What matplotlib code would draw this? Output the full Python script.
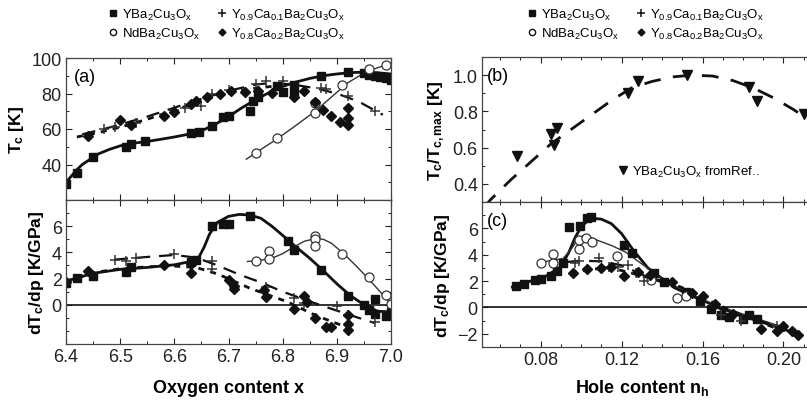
import matplotlib
matplotlib.use("Agg")
import matplotlib.pyplot as plt
from matplotlib.lines import Line2D
from matplotlib.ticker import MultipleLocator, FixedLocator

plt.rcParams['font.family'] = ['Liberation Sans', 'DejaVu Sans']
plt.rcParams['mathtext.fontset'] = 'custom'
plt.rcParams['mathtext.rm'] = 'Liberation Sans'
plt.rcParams['mathtext.it'] = 'Liberation Sans:italic'
plt.rcParams['mathtext.bf'] = 'Liberation Sans:bold'
plt.rcParams['mathtext.default'] = 'regular'

# ---------------- Panel (a): Tc vs oxygen content ----------------
a_sq_x = [6.40, 6.42, 6.45, 6.51, 6.52, 6.545, 6.63, 6.645, 6.67, 6.69, 6.70, 6.74, 6.745, 6.755,
          6.79, 6.80, 6.82, 6.82, 6.87, 6.92, 6.95, 6.96, 6.97, 6.98, 6.99, 7.00]
a_sq_y = [29, 35, 44.5, 50, 51.5, 53, 58, 58.5, 61.5, 66.5, 67.5, 70, 76, 78,
          84, 81, 85, 80.5, 90, 92, 91.5, 90.5, 90, 89.5, 88.5, 87.5]
a_ci_x = [6.75, 6.79, 6.86, 6.86, 6.91, 6.96, 6.99]
a_ci_y = [46.5, 55, 69, 74.5, 85, 94, 96]
a_cr_x = [6.47, 6.49, 6.53, 6.60, 6.62, 6.65, 6.67, 6.70, 6.75, 6.77, 6.80, 6.87, 6.88, 6.92, 6.97]
a_cr_y = [60, 61, 63.5, 70.5, 72, 73, 80, 82, 85.5, 87, 87, 83, 82.5, 78.5, 70]
a_di_x = [6.44, 6.50, 6.52, 6.58, 6.60, 6.63, 6.64, 6.66, 6.685, 6.705, 6.73, 6.755, 6.78,
          6.82, 6.84, 6.86, 6.875, 6.89, 6.905, 6.92, 6.92, 6.92]
a_di_y = [56, 65, 62, 67.5, 69.5, 74, 76, 78, 80, 81.5, 81, 81.5, 80.5,
          78, 81.5, 75, 70.5, 67.5, 64, 62.5, 66, 72]

a_sq_fit_x = [6.40, 6.41, 6.42, 6.43, 6.45, 6.46, 6.48, 6.50, 6.52, 6.55, 6.575, 6.60, 6.625, 6.65,
              6.675, 6.70, 6.725, 6.75, 6.775, 6.80, 6.825, 6.85, 6.875, 6.90, 6.925, 6.95, 6.975, 7.00]
a_sq_fit_y = [30, 33.5, 37, 40, 44, 46, 48.5, 50.5, 51.8, 53, 54.2, 55.5, 57, 59,
              62.5, 67, 72, 76.5, 80.5, 84, 86.5, 88.5, 90, 91, 91.8, 92, 91.7, 91]
a_ci_fit_x = [6.733, 6.76, 6.79, 6.82, 6.86, 6.89, 6.92, 6.95, 6.975, 7.00]
a_ci_fit_y = [43, 48.5, 54.5, 61, 70, 78, 86, 91.5, 94.5, 97]
a_cr_fit_x = [6.43, 6.47, 6.50, 6.55, 6.60, 6.65, 6.70, 6.75, 6.78, 6.82, 6.86, 6.90, 6.94, 6.985]
a_cr_fit_y = [57, 60, 62.5, 67, 72, 77, 81.5, 85, 86, 85, 83, 80, 75.5, 68]
a_di_fit_x = [6.42, 6.46, 6.50, 6.55, 6.60, 6.65, 6.70, 6.75, 6.78]
a_di_fit_y = [55.5, 58, 61, 65.5, 70.5, 76, 80.5, 83, 84]

# ---------------- Lower left: dTc/dp vs oxygen content ----------------
d_sq_x = [6.40, 6.42, 6.45, 6.51, 6.52, 6.63, 6.64, 6.67, 6.69, 6.70, 6.74, 6.81, 6.82, 6.87,
          6.92, 6.95, 6.96, 6.97, 6.97, 6.99, 7.00]
d_sq_y = [1.65, 2.05, 2.2, 2.5, 2.85, 3.3, 3.45, 6.05, 6.2, 6.2, 6.8, 4.9, 4.15, 2.65,
          0.65, 0.0, -0.4, 0.45, -0.7, -0.85, -0.55]
d_ci_x = [6.75, 6.775, 6.775, 6.86, 6.86, 6.86, 6.91, 6.96, 6.99, 7.00]
d_ci_y = [3.35, 4.1, 3.5, 5.25, 5.05, 4.45, 3.85, 2.1, 0.75, 0.05]
d_cr_x = [6.49, 6.51, 6.53, 6.60, 6.67, 6.67, 6.77, 6.82, 6.84, 6.90, 6.92, 6.97]
d_cr_y = [3.45, 3.35, 3.6, 3.85, 3.35, 2.7, 1.35, 0.5, 0.1, -0.1, -0.8, -1.3]
d_di_x = [6.40, 6.44, 6.58, 6.63, 6.63, 6.70, 6.71, 6.71, 6.765, 6.77, 6.82, 6.84, 6.845,
          6.86, 6.88, 6.89, 6.92, 6.92, 6.92]
d_di_y = [1.7, 2.6, 3.0, 3.1, 2.45, 1.9, 1.45, 1.2, 1.1, 0.6, -0.3, 0.7, 0.2,
          -1.05, -1.7, -1.7, -1.45, -1.9, -0.8]

d_sq_fit_x = [6.40, 6.45, 6.50, 6.55, 6.60, 6.63, 6.645, 6.655, 6.665, 6.68, 6.70, 6.72, 6.74,
              6.76, 6.78, 6.80, 6.825, 6.85, 6.875, 6.90, 6.925, 6.95, 6.975, 7.00]
d_sq_fit_y = [1.8, 2.4, 2.7, 2.85, 3.05, 3.3, 3.6, 4.4, 5.4, 6.3, 6.75, 6.9, 6.85,
              6.6, 6.0, 5.3, 4.4, 3.55, 2.6, 1.6, 0.7, 0.0, -0.5, -0.55]
d_ci_fit_x = [6.735, 6.76, 6.78, 6.80, 6.82, 6.84, 6.86, 6.875, 6.89, 6.91, 6.93, 6.95, 6.97, 6.985, 7.00]
d_ci_fit_y = [3.3, 3.4, 3.55, 3.9, 4.4, 4.85, 5.05, 5.0, 4.7, 4.0, 3.2, 2.35, 1.45, 0.75, 0.05]
d_cr_fit_x = [6.49, 6.55, 6.60, 6.64, 6.68, 6.72, 6.76, 6.80, 6.85, 6.90, 6.94, 6.97]
d_cr_fit_y = [3.45, 3.65, 3.8, 3.6, 3.0, 2.3, 1.7, 1.0, 0.25, -0.45, -1.0, -1.4]
d_di_fit_x = [6.40, 6.45, 6.50, 6.55, 6.60, 6.64, 6.68, 6.74, 6.81, 6.86, 6.92]
d_di_fit_y = [1.75, 2.45, 2.75, 2.9, 2.95, 2.85, 2.35, 1.25, 0.2, -0.8, -1.75]

# ---------------- Panel (b): Tc/Tcmax vs hole content ----------------
b_tri_x = [0.0685, 0.085, 0.0865, 0.088, 0.123, 0.128, 0.1525, 0.183, 0.187, 0.21]
b_tri_y = [0.555, 0.675, 0.615, 0.71, 0.9, 0.965, 1.0, 0.935, 0.86, 0.785]
b_fit_x = [0.052, 0.055, 0.065, 0.075, 0.085, 0.095, 0.105, 0.115, 0.125, 0.135, 0.145, 0.155,
           0.165, 0.175, 0.185, 0.195, 0.205, 0.215, 0.225]
b_fit_y = [0.27, 0.31, 0.42, 0.52, 0.62, 0.70, 0.78, 0.86, 0.93, 0.965, 0.99, 1.0,
           0.995, 0.97, 0.93, 0.875, 0.81, 0.735, 0.65]

# ---------------- Panel (c): dTc/dp vs hole content ----------------
c_sq_x = [0.068, 0.072, 0.077, 0.080, 0.085, 0.088, 0.091, 0.094, 0.0995, 0.103, 0.105, 0.121,
          0.125, 0.136, 0.141, 0.152, 0.159, 0.164, 0.169, 0.173, 0.180, 0.183, 0.187]
c_sq_y = [1.6, 1.8, 2.05, 2.15, 2.4, 2.8, 3.35, 6.1, 6.2, 6.75, 6.85, 4.75,
          4.15, 2.65, 1.9, 1.15, 0.5, -0.1, -0.6, -0.75, -0.9, -0.6, -0.9]
c_ci_x = [0.080, 0.086, 0.086, 0.099, 0.099, 0.1025, 0.1055, 0.1175, 0.1345, 0.1475, 0.152]
c_ci_y = [3.4, 4.05, 3.4, 4.45, 5.1, 5.3, 5.0, 3.9, 2.1, 0.75, 0.85]
c_cr_x = [0.097, 0.099, 0.109, 0.114, 0.118, 0.123, 0.127, 0.131, 0.169, 0.179, 0.197]
c_cr_y = [3.4, 3.5, 3.75, 3.1, 3.1, 3.25, 2.6, 2.0, -0.6, -1.0, -1.4]
c_di_x = [0.096, 0.103, 0.110, 0.115, 0.121, 0.128, 0.134, 0.145, 0.155, 0.160, 0.166, 0.175,
          0.189, 0.197, 0.200, 0.204, 0.207]
c_di_y = [2.6, 2.9, 3.0, 3.05, 2.35, 2.7, 2.5, 1.9, 1.1, 0.9, 0.3, -0.5,
          -1.6, -1.75, -1.4, -1.75, -2.1]

c_sq_fit_x = [0.066, 0.075, 0.083, 0.090, 0.094, 0.097, 0.100, 0.103, 0.1065, 0.110, 0.115, 0.120,
              0.126, 0.133, 0.140, 0.146, 0.155, 0.165, 0.175, 0.185, 0.195, 0.207]
c_sq_fit_y = [1.55, 2.0, 2.4, 3.1, 4.2, 5.3, 6.1, 6.55, 6.75, 6.7, 6.35, 5.6,
              4.3, 3.0, 2.2, 1.6, 0.9, 0.2, -0.4, -0.9, -1.4, -2.0]
c_ci_fit_x = [0.080, 0.086, 0.091, 0.095, 0.099, 0.102, 0.108, 0.115, 0.122, 0.130, 0.140, 0.150,
              0.160, 0.170, 0.180, 0.190, 0.200]
c_ci_fit_y = [3.4, 3.6, 3.7, 4.4, 5.3, 5.5, 5.1, 4.7, 4.2, 3.3, 2.2, 1.3,
              0.6, 0.0, -0.5, -1.0, -1.5]
c_cr_fit_x = [0.093, 0.100, 0.110, 0.120, 0.130, 0.140, 0.150, 0.160, 0.170, 0.180, 0.190, 0.200]
c_cr_fit_y = [3.45, 3.55, 3.5, 3.2, 2.5, 1.9, 1.2, 0.5, -0.2, -0.7, -1.1, -1.5]
c_di_fit_x = [0.095, 0.105, 0.115, 0.125, 0.135, 0.145, 0.155, 0.165, 0.175, 0.185, 0.195, 0.207]
c_di_fit_y = [2.6, 2.9, 3.0, 2.6, 2.2, 1.8, 1.2, 0.4, -0.3, -0.9, -1.5, -2.0]

legend_labels = [r'YBa$_2$Cu$_3$O$_x$', r'NdBa$_2$Cu$_3$O$_x$',
                 r'Y$_{0.9}$Ca$_{0.1}$Ba$_2$Cu$_3$O$_x$', r'Y$_{0.8}$Ca$_{0.2}$Ba$_2$Cu$_3$O$_x$']
ref_label = r'YBa$_2$Cu$_3$O$_x$ fromRef..'

# ---------------- styles ----------------
K = '#111111'
SQ = dict(ls='none', marker='s', ms=6, color=K)
CI = dict(ls='none', marker='o', ms=6.5, mfc='white', mec='#333333', mew=0.9)
CR = dict(ls='none', marker='+', ms=7.5, mew=1.1, color='#333333')
DI = dict(ls='none', marker='D', ms=4.8, color=K)
L_SQ = dict(color=K, lw=2.0)
L_CI = dict(color='#333333', lw=1.0)
L_CR = dict(color=K, lw=1.6, dashes=(6, 4))
L_DI = dict(color=K, lw=2.0, dashes=(2.2, 2.2))

W, H = 807, 410
fig = plt.figure(figsize=(W / 100, H / 100), dpi=100)

def ax_at(x0, y0, x1, y1):
    return fig.add_axes([x0 / W, 1 - y1 / H, (x1 - x0) / W, (y1 - y0) / H])

axA = ax_at(66, 59, 391, 201)
axD = ax_at(66, 201, 391, 345)
axB = ax_at(482, 58, 834, 203)
axC = ax_at(482, 203, 834, 348)

TICKFS = 13
for ax in (axA, axD, axB, axC):
    ax.tick_params(which='both', direction='in', top=True, right=True, labelsize=TICKFS,
                   colors='#222222', labelcolor='#222222')
    ax.tick_params(which='major', length=4, width=0.8, pad=3)
    ax.tick_params(which='minor', length=2.5, width=0.7)
    for s in ax.spines.values():
        s.set_color('#444444')
        s.set_linewidth(0.9)

# panel (a)
axA.plot(a_sq_fit_x, a_sq_fit_y, **L_SQ)
axA.plot(a_ci_fit_x, a_ci_fit_y, **L_CI)
axA.plot(a_cr_fit_x, a_cr_fit_y, **L_CR)
axA.plot(a_di_fit_x, a_di_fit_y, **L_DI)
axA.plot(a_sq_x, a_sq_y, **SQ)
axA.plot(a_ci_x, a_ci_y, **CI)
axA.plot(a_cr_x, a_cr_y, **CR)
axA.plot(a_di_x, a_di_y, **DI)
axA.set_xlim(6.4, 7.0)
axA.set_ylim(20, 100)
axA.yaxis.set_major_locator(FixedLocator([40, 60, 80, 100]))
axA.yaxis.set_minor_locator(MultipleLocator(10))
axA.xaxis.set_major_locator(MultipleLocator(0.1))
axA.xaxis.set_minor_locator(MultipleLocator(0.05))
axA.tick_params(labelbottom=False)
axA.set_ylabel(r'T$_c$ [K]', fontsize=12.5, fontweight='bold')
axA.text(0.025, 0.93, '(a)', transform=axA.transAxes, fontsize=13, va='top', ha='left')

# lower left
axD.axhline(0, color=K, lw=1.2)
axD.plot(d_sq_fit_x, d_sq_fit_y, **L_SQ)
axD.plot(d_ci_fit_x, d_ci_fit_y, **L_CI)
axD.plot(d_cr_fit_x, d_cr_fit_y, **L_CR)
axD.plot(d_di_fit_x, d_di_fit_y, **L_DI)
axD.plot(d_sq_x, d_sq_y, **SQ)
axD.plot(d_ci_x, d_ci_y, **CI)
axD.plot(d_cr_x, d_cr_y, **CR)
axD.plot(d_di_x, d_di_y, **DI)
axD.set_xlim(6.4, 7.0)
axD.set_ylim(-3, 8)
axD.yaxis.set_major_locator(FixedLocator([0, 2, 4, 6]))
axD.yaxis.set_minor_locator(MultipleLocator(1))
axD.xaxis.set_minor_locator(MultipleLocator(0.05))
axD.set_xticks([6.4, 6.5, 6.6, 6.7, 6.8, 6.9, 7.0])
axD.set_xticklabels(['6.4', '6.5', '6.6', '6.7', '6.8', '6.9', '7.0'])
axD.set_ylabel(r'dT$_c$/dp [K/GPa]', fontsize=12.5, fontweight='bold')

# panel (b)
axB.plot(b_fit_x, b_fit_y, color=K, lw=2.0, dashes=(6, 4.5))
axB.plot(b_tri_x, b_tri_y, ls='none', marker='v', ms=7, color=K)
axB.set_xlim(0.051, 0.225)
axB.set_ylim(0.3, 1.1)
axB.yaxis.set_major_locator(FixedLocator([0.4, 0.6, 0.8, 1.0]))
axB.yaxis.set_minor_locator(MultipleLocator(0.1))
axB.xaxis.set_major_locator(MultipleLocator(0.04))
axB.xaxis.set_minor_locator(MultipleLocator(0.01))
axB.tick_params(labelbottom=False)
axB.set_ylabel(r'T$_c$/T$_{c,max}$ [K]', fontsize=12.5, fontweight='bold')
axB.text(0.013, 0.93, '(b)', transform=axB.transAxes, fontsize=13, va='top', ha='left')
axB.legend([Line2D([], [], ls='none', marker='v', ms=6, color=K)], [ref_label],
           loc='center left', bbox_to_anchor=(130 / 352, 0.21), frameon=False,
           fontsize=9.5, handletextpad=0.3, handlelength=0.8, borderaxespad=0)

# panel (c)
axC.axhline(0, color=K, lw=1.2)
axC.plot(c_sq_fit_x, c_sq_fit_y, **L_SQ)
axC.plot(c_ci_fit_x, c_ci_fit_y, **L_CI)
axC.plot(c_cr_fit_x, c_cr_fit_y, **L_CR)
axC.plot(c_di_fit_x, c_di_fit_y, **L_DI)
axC.plot(c_sq_x, c_sq_y, **SQ)
axC.plot(c_ci_x, c_ci_y, **CI)
axC.plot(c_cr_x, c_cr_y, **CR)
axC.plot(c_di_x, c_di_y, **DI)
axC.set_xlim(0.051, 0.225)
axC.set_ylim(-3, 8)
axC.yaxis.set_major_locator(FixedLocator([-2, 0, 2, 4, 6]))
axC.yaxis.set_minor_locator(MultipleLocator(1))
axC.set_xticks([0.08, 0.12, 0.16, 0.20])
axC.set_xticklabels(['0.08', '0.12', '0.16', '0.20'])
axC.xaxis.set_minor_locator(MultipleLocator(0.01))
axC.set_ylabel(r'dT$_c$/dp [K/GPa]', fontsize=12.5, fontweight='bold')
axC.text(0.013, 0.93, '(c)', transform=axC.transAxes, fontsize=13, va='top', ha='left')

# shared x labels
fig.text(228 / W, 1 - 393 / H, 'Oxygen content x', fontsize=13, fontweight='bold',
         ha='center', va='baseline')
fig.text(642 / W, 1 - 393 / H, r'Hole content n$_h$', fontsize=13, fontweight='bold',
         ha='center', va='baseline')

# top legends
handles = [Line2D([], [], ls='none', marker='s', ms=4, color=K),
           Line2D([], [], ls='none', marker='o', ms=4.5, mfc='white', mec=K, mew=1),
           Line2D([], [], ls='none', marker='+', ms=6, mew=1.1, color=K),
           Line2D([], [], ls='none', marker='D', ms=3.5, color=K)]
for cx in (226, 645):
    fig.legend(handles, legend_labels, ncol=2, loc='upper center',
               bbox_to_anchor=(cx / W, 1.0), frameon=False, fontsize=9.5,
               handletextpad=0.2, handlelength=0.9, columnspacing=1.2,
               labelspacing=0.3, borderaxespad=0.2)

fig.savefig('out.png', dpi=100)
